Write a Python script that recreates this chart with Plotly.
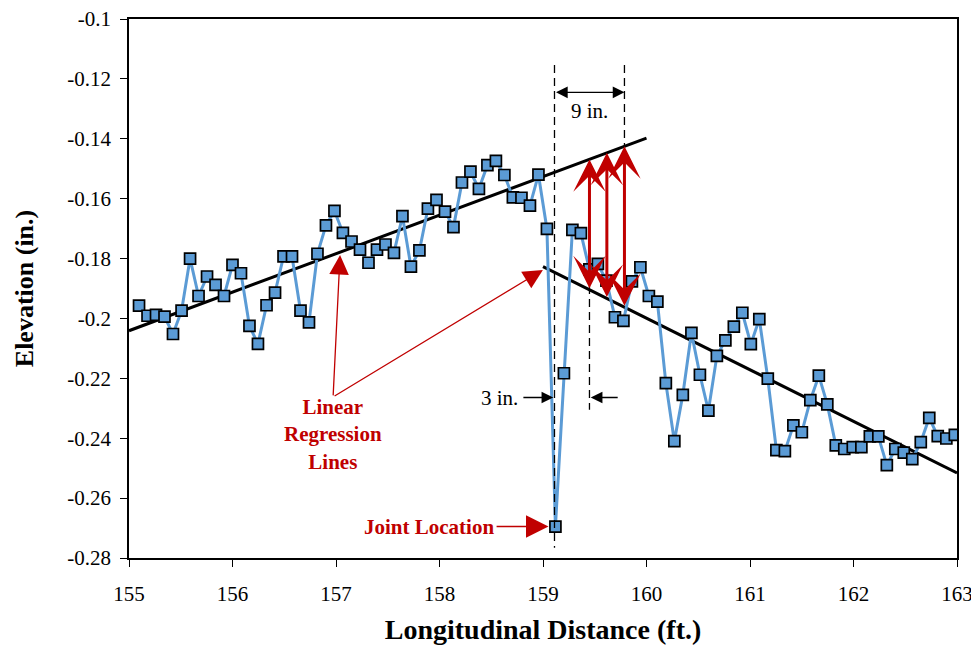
import plotly.graph_objects as go

# ---------------- data ----------------
distance_ft = [
    155.097, 155.179, 155.261, 155.343, 155.425, 155.508, 155.590, 155.672, 155.754, 155.836,
    155.918, 156.000, 156.082, 156.164, 156.246, 156.329, 156.411, 156.493, 156.575, 156.657,
    156.739, 156.821, 156.903, 156.985, 157.067, 157.150, 157.232, 157.314, 157.396, 157.478,
    157.560, 157.642, 157.724, 157.806, 157.888, 157.971, 158.053, 158.135, 158.217, 158.299,
    158.381, 158.463, 158.545, 158.627, 158.709, 158.792, 158.874, 158.956, 159.038, 159.120,
    159.202, 159.284, 159.366, 159.448, 159.530, 159.613, 159.695, 159.777, 159.859, 159.941,
    160.023, 160.105, 160.187, 160.269, 160.351, 160.434, 160.516, 160.598, 160.680, 160.762,
    160.844, 160.926, 161.008, 161.090, 161.172, 161.255, 161.337, 161.419, 161.501, 161.583,
    161.665, 161.747, 161.829, 161.911, 161.993, 162.076, 162.158, 162.240, 162.322, 162.404,
    162.486, 162.568, 162.650, 162.732, 162.814, 162.897, 162.979,
]
elevation_in = [
    -0.1957, -0.1991, -0.1988, -0.1994, -0.2052, -0.1974, -0.1800, -0.1925, -0.1860, -0.1888,
    -0.1925, -0.1821, -0.1849, -0.2025, -0.2085, -0.1956, -0.1914, -0.1793, -0.1793, -0.1974,
    -0.2013, -0.1784, -0.1689, -0.1641, -0.1714, -0.1743, -0.1770, -0.1814, -0.1770, -0.1753,
    -0.1781, -0.1658, -0.1827, -0.1773, -0.1633, -0.1604, -0.1643, -0.1695, -0.1546, -0.1510,
    -0.1567, -0.1488, -0.1474, -0.1521, -0.1596, -0.1597, -0.1623, -0.1520, -0.1701, -0.2695,
    -0.2183, -0.1704, -0.1715, -0.1836, -0.1818, -0.1874, -0.1996, -0.2008, -0.1876, -0.1829,
    -0.1925, -0.1944, -0.2216, -0.2410, -0.2255, -0.2048, -0.2188, -0.2308, -0.2125, -0.2073,
    -0.2027, -0.1981, -0.2086, -0.2002, -0.2201, -0.2440, -0.2443, -0.2357, -0.2380, -0.2273,
    -0.2191, -0.2287, -0.2424, -0.2436, -0.2430, -0.2430, -0.2394, -0.2394, -0.2490, -0.2436,
    -0.2448, -0.2470, -0.2413, -0.2332, -0.2393, -0.2401, -0.2389,
]

# regression lines (end points)
reg1_x = [155.0, 160.0]
reg1_y = [-0.2041, -0.1398]
reg2_x = [159.0, 163.0]
reg2_y = [-0.1827, -0.2516]

# reference markers
joint_x = 159.111
joint_y = -0.2695
dash_joint_y = [-0.1154, -0.2766]
dash_3in_x = 159.449
dash_3in_y = [-0.1848, -0.2305]
dash_9in_x = 159.787
dash_9in_y = [-0.1154, -0.1431]
dim_9in_y = -0.1245
dim_3in_y = -0.2264

# red double arrows between regression lines
gap_x = [159.449, 159.617, 159.787]
gap_top = [-0.1469, -0.1447, -0.1425]
gap_bottom = [-0.1904, -0.1933, -0.1963]

# label for regression arrows
label_xy = (156.972, -0.2262)
reg_targets = [(157.039, -0.1788), (158.999, -0.1838)]

x_ticks = [155, 156, 157, 158, 159, 160, 161, 162, 163]
y_ticks = [-0.1, -0.12, -0.14, -0.16, -0.18, -0.2, -0.22, -0.24, -0.26, -0.28]

BLUE = "#5B9BD5"
RED = "#C00000"
SERIF = "Liberation Serif, Times New Roman, serif"

fig = go.Figure()

for rx, ry in ((reg1_x, reg1_y), (reg2_x, reg2_y)):
    fig.add_trace(go.Scatter(x=rx, y=ry, mode="lines",
                             line=dict(color="black", width=3), showlegend=False,
                             hoverinfo="skip"))

fig.add_trace(go.Scatter(
    x=distance_ft, y=elevation_in, mode="lines+markers",
    line=dict(color=BLUE, width=3),
    marker=dict(symbol="square", size=11, color=BLUE, line=dict(color="black", width=1.7)),
    showlegend=False,
))

dash = "8px,5px"
fig.add_shape(type="line", x0=joint_x, x1=joint_x, y0=dash_joint_y[0], y1=dash_joint_y[1],
              line=dict(color="black", width=1.3, dash=dash))
fig.add_shape(type="line", x0=dash_3in_x, x1=dash_3in_x, y0=dash_3in_y[0], y1=dash_3in_y[1],
              line=dict(color="black", width=1.3, dash=dash))
fig.add_shape(type="line", x0=dash_9in_x, x1=dash_9in_x, y0=dash_9in_y[0], y1=dash_9in_y[1],
              line=dict(color="black", width=1.3, dash=dash))

ann = []


def arrow(x, y, ax, ay, color, width, head, size, both=False):
    d = dict(x=x, y=y, ax=ax, ay=ay, xref="x", yref="y", axref="x", ayref="y",
             text="", showarrow=True, arrowcolor=color, arrowwidth=width,
             arrowhead=head, arrowsize=size, standoff=0, startstandoff=0)
    if both:
        d.update(arrowside="end+start", startarrowhead=head, startarrowsize=size)
    ann.append(d)


# red double arrows
for gx, gt, gb in zip(gap_x, gap_top, gap_bottom):
    arrow(gx, gt, gx, gb, RED, 3, 3, 1.8, both=True)

# 9 in. dimension
arrow(dash_9in_x, dim_9in_y, joint_x, dim_9in_y, "black", 1.3, 2, 1.8, both=True)
ann.append(dict(x=159.45, y=-0.1308, xref="x", yref="y", text="9 in.", showarrow=False,
                font=dict(family=SERIF, size=21, color="black")))

# 3 in. dimension
arrow(joint_x - 0.012, dim_3in_y, 158.796, dim_3in_y, "black", 1.3, 2, 1.8)
arrow(dash_3in_x + 0.012, dim_3in_y, 159.736, dim_3in_y, "black", 1.3, 2, 1.8)
ann.append(dict(x=158.58, y=dim_3in_y, xref="x", yref="y", text="3 in.", showarrow=False,
                font=dict(family=SERIF, size=21, color="black")))

# regression label arrows
for tx, ty in reg_targets:
    arrow(tx, ty, label_xy[0], label_xy[1], RED, 1.3, 2, 3)
ann.append(dict(x=156.967, y=-0.2389, xref="x", yref="y",
                text="<b>Linear<br>Regression<br>Lines</b>", showarrow=False,
                font=dict(family=SERIF, size=21, color=RED), align="center"))

# joint location
arrow(159.053, joint_y, 158.537, joint_y, RED, 1.5, 2, 3)
ann.append(dict(x=157.898, y=joint_y, xref="x", yref="y", text="<b>Joint Location</b>",
                showarrow=False, font=dict(family=SERIF, size=21, color=RED)))

# page body has an 8px default margin: size the figure so it fits in the 979x645 window
fig.update_layout(
    width=971, height=637,
    margin=dict(l=121, r=22, t=11, b=87),
    paper_bgcolor="white", plot_bgcolor="white",
    annotations=ann,
    font=dict(family=SERIF, color="black"),
)
fig.update_xaxes(
    range=[155, 163], tickvals=x_ticks, ticktext=[str(v) for v in x_ticks],
    showgrid=False, zeroline=False, showline=True, linecolor="black", linewidth=1.5,
    mirror=True, ticks="outside", ticklen=7, tickwidth=1.2, tickcolor="black",
    tickfont=dict(family=SERIF, size=21, color="black"), automargin=False,
    ticklabeloverflow="allow", ticklabelstandoff=9,
    title=dict(text="<b>Longitudinal Distance (ft.)</b>", standoff=16,
               font=dict(family=SERIF, size=28, color="black")),
)
fig.update_yaxes(
    range=[-0.28, -0.1], tickvals=y_ticks, ticktext=[f"{v:g}" for v in y_ticks],
    showgrid=False, zeroline=False, showline=True, linecolor="black", linewidth=1.5,
    mirror=True, ticks="outside", ticklen=7, tickwidth=1.2, tickcolor="black",
    tickfont=dict(family=SERIF, size=21, color="black"), automargin=False,
    ticklabeloverflow="allow", ticklabelstandoff=5,
    title=dict(text="<b>Elevation (in.)</b>", standoff=26,
               font=dict(family=SERIF, size=26, color="black")),
)

fig.write_html("out.html")
